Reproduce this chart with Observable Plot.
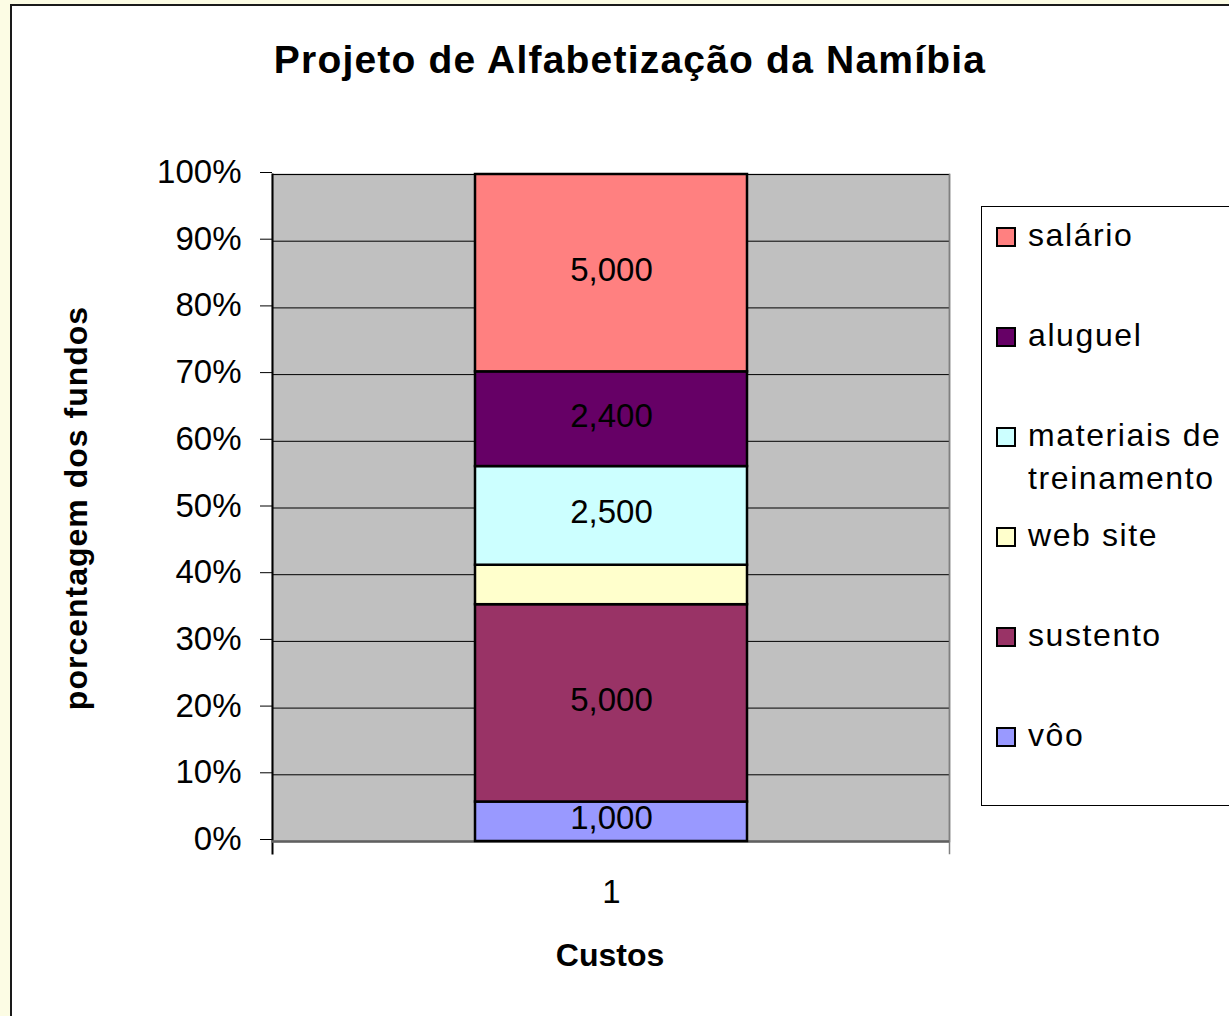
<!DOCTYPE html>
<html>
<head>
<meta charset="utf-8">
<script src="https://cdn.jsdelivr.net/npm/d3@7"></script>
<script src="https://cdn.jsdelivr.net/npm/@observablehq/plot@0.6"></script>
<style>
  html, body { margin: 0; padding: 0; }
  body { width: 1229px; height: 1016px; overflow: hidden; background: #FCFCE4; position: relative; font-family: "Liberation Sans", Arial, sans-serif; }
  #card { position: absolute; left: 10px; top: 4px; width: 1300px; height: 1100px; background: #fff; border: 2px solid #1a1a1a; box-sizing: border-box; }
  #chart { position: absolute; left: 0; top: 0; }
  .t { position: absolute; color: #000; white-space: nowrap; }
  #title { left: 0; width: 1260px; text-align: center; top: 38px; font-size: 39px; font-weight: bold; letter-spacing: 1.2px; }
  #ylab { left: 76px; top: 508px; font-size: 32px; font-weight: bold; letter-spacing: 1px; transform: translate(-50%, -50%) rotate(-90deg); }
  #xlab { left: 610px; top: 955px; font-size: 32px; font-weight: bold; transform: translate(-50%, -50%); }
  #legend { position: absolute; left: 981px; top: 206px; width: 300px; height: 600px; border: 1px solid #000; background: #fff; box-sizing: border-box; }
  .item { position: absolute; left: 14px; font-size: 32px; letter-spacing: 1.6px; line-height: 43px; }
  .sw { position: absolute; left: 0; width: 16px; height: 16px; border: 2px solid #000; }
  .lt { position: absolute; left: 32px; top: 0; white-space: nowrap; }
</style>
</head>
<body>
<div id="card"></div>
<div id="chart"></div>
<div class="t" id="title">Projeto de Alfabetização da Namíbia</div>
<div class="t" id="ylab">porcentagem dos fundos</div>
<div class="t" id="xlab">Custos</div>
<div id="legend"></div>
<script>
// Data (bottom to top of the stack)
const categories = ["vôo", "sustento", "web site", "materiais de treinamento", "aluguel", "salário"];
const values = [1000, 5000, 1000, 2500, 2400, 5000];
const showLabel = [true, true, false, true, true, true];
const colors = ["#9999FF", "#993366", "#FFFFCC", "#CCFFFF", "#660066", "#FF8080"];
const xGroup = "1";
const yTicks = [0, 0.1, 0.2, 0.3, 0.4, 0.5, 0.6, 0.7, 0.8, 0.9, 1];
// Legend order (top to bottom) and line-wrapping of names
const legendOrder = ["salário", "aluguel", "materiais de treinamento", "web site", "sustento", "vôo"];
const legendLines = {"materiais de treinamento": ["materiais de", "treinamento"]};

const data = categories.map((c, i) => ({x: xGroup, cat: c, value: values[i], label: showLabel[i] ? d3.format(",")(values[i]) : ""}));

const chart = Plot.plot({
  width: 1229,
  height: 1016,
  marginTop: 174,
  marginBottom: 175,
  marginLeft: 272,
  marginRight: 280,
  style: {background: "transparent", fontFamily: "Liberation Sans, Arial, sans-serif", color: "#000"},
  x: {type: "band", domain: [xGroup], padding: 0.4267, label: null},
  y: {domain: [0, 1], label: null},
  color: {domain: categories, range: colors},
  marks: [
    Plot.frame({fill: "#C0C0C0", stroke: "#808080", strokeWidth: 1.5}),
    Plot.ruleY(yTicks.filter(d => d > 0), {stroke: "#000", strokeWidth: 1}),
    Plot.frame({anchor: "right", stroke: "#808080", strokeWidth: 1.5, insetBottom: -12}),
    Plot.frame({anchor: "left", stroke: "#000", strokeWidth: 2, insetBottom: -12}),
    Plot.ruleY([0], {stroke: "#606060", strokeWidth: 2.5}),
    Plot.barY(data, Plot.stackY({offset: "normalize"}, {x: "x", y: "value", fill: "cat", stroke: "#000", strokeWidth: 2.5})),
    Plot.text(data, Plot.stackY({offset: "normalize"}, {x: "x", y: "value", text: "label", fill: "#000", fontSize: 33, dy: -3})),
    Plot.axisY({ticks: yTicks, tickFormat: d3.format(".0%"), tickSize: 12, tickPadding: 19, fontSize: 33, stroke: "#000", label: null, dy: -2}),
    Plot.axisX({tickSize: 0, tickPadding: 38, fontSize: 33, label: null})
  ]
});
document.getElementById("chart").appendChild(chart);

// Legend
const legend = document.getElementById("legend");
legendOrder.forEach((name, i) => {
  const idx = categories.indexOf(name);
  const item = document.createElement("div");
  item.className = "item";
  item.style.top = (7 + i * 100) + "px";
  const sw = document.createElement("div");
  sw.className = "sw";
  sw.style.background = colors[idx];
  sw.style.top = "13px";
  const lt = document.createElement("div");
  lt.className = "lt";
  lt.innerHTML = (legendLines[name] || [name]).join("<br>");
  item.appendChild(sw);
  item.appendChild(lt);
  legend.appendChild(item);
});
</script>
</body>
</html>
